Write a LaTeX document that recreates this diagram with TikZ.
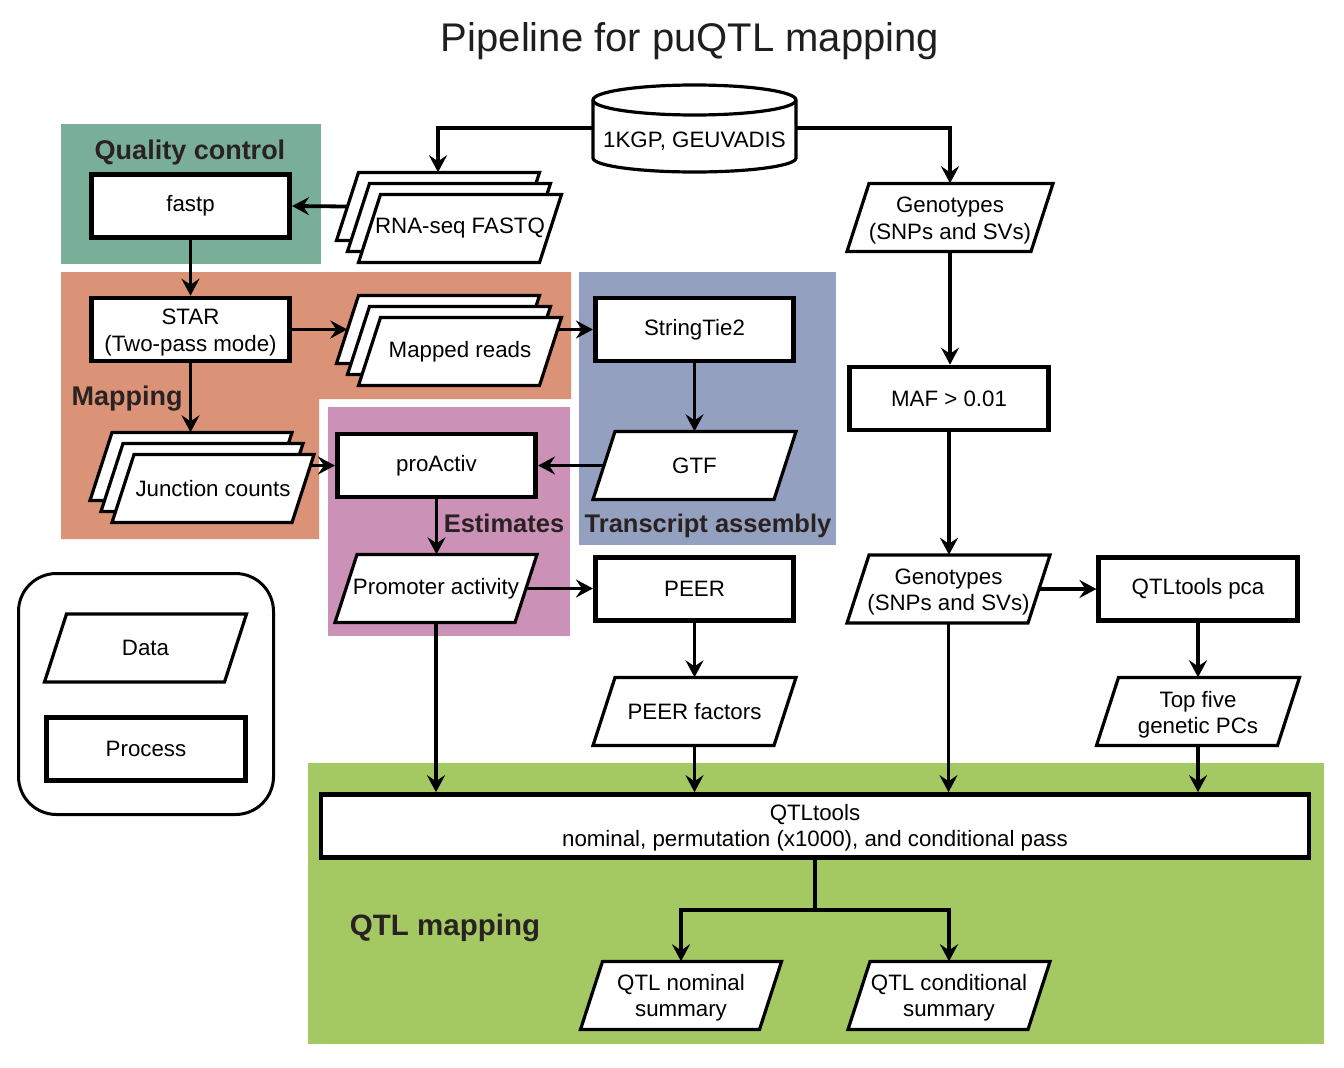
\documentclass[tikz,border=0pt]{standalone}
\usepackage{fontspec}
\setmainfont{Liberation Sans}
\usetikzlibrary{arrows.meta,calc}
\definecolor{qcg}{HTML}{79AF98}
\definecolor{mapo}{HTML}{DB9377}
\definecolor{tab}{HTML}{94A0BF}
\definecolor{estp}{HTML}{CC91B6}
\definecolor{qtlg}{HTML}{A4C862}
\definecolor{lab}{HTML}{2A2222}
\newcommand{\datapoly}[3]{%
  \filldraw[dataline] ({#1-#3/2+11},{#2-34}) -- ({#1+#3/2+11},{#2-34}) -- ({#1+#3/2-11},{#2+34}) -- ({#1-#3/2-11},{#2+34}) -- cycle;}
\newcommand{\datanode}[6][]{%
  \datapoly{#3}{#4}{#5}
  \node[databox, minimum width=#5pt, #1] (#2) at (#3,#4) {#6};}
\tikzset{
  base/.style={font=\fontsize{22.3}{26.5}\selectfont, align=center, inner sep=0pt},
  proc/.style={base, draw, line width=4.6pt, fill=white, minimum width=198.5pt, minimum height=63pt},
  databox/.style={base, minimum height=68pt},
  dataline/.style={draw=black, fill=white, line width=3.2pt, line join=miter},
  arr/.style={line width=3.8pt, -{Stealth[length=17pt,width=18pt,inset=6pt]}},
  plain/.style={line width=3.8pt},
  twolab/.style={base, yshift=-3pt},
  grouplabel/.style={font=\bfseries\fontsize{25.5}{30}\selectfont, text=lab, anchor=base, inner sep=0pt},
}
\begin{document}
\begin{tikzpicture}[x=1pt,y=-1pt]
\fill[white] (0,0) rectangle (1344,1068);
\useasboundingbox (0,0) rectangle (1344,1068);

% regions
\fill[qcg] (61,124) rectangle (321,264);
\fill[mapo] (61,272) -- (571,272) -- (571,399) -- (319,399) -- (319,539) -- (61,539) -- cycle;
\fill[tab] (579,272) rectangle (836,545);
\fill[estp] (328,407) rectangle (570,636);
\fill[qtlg] (308,763) rectangle (1324,1044);

% title
\node[font=\fontsize{40}{48}\selectfont, anchor=base, inner sep=0pt, text=black!88] (title) at (690,51) {Pipeline for puQTL mapping};

% group labels
\node[grouplabel, font=\bfseries\fontsize{27}{32}\selectfont] (lqc) at (190,159) {Quality control};
\node[grouplabel, font=\bfseries\fontsize{27}{32}\selectfont] (lmap) at (127,405) {Mapping};
\node[grouplabel] (lest) at (504,532) {Estimates};
\node[grouplabel] (lta) at (708,532) {Transcript assembly};
\node[grouplabel, font=\bfseries\fontsize{29.5}{34}\selectfont] (lqtl) at (445,935) {QTL mapping};

% database cylinder
\filldraw[dataline] (593,100) -- (593,158) arc[start angle=180,end angle=360,x radius=101.5pt,y radius=14pt] -- (796,100) arc[start angle=0,end angle=180,x radius=101.5pt,y radius=15pt] -- cycle;
\draw[line width=3.2pt] (593,100) arc[start angle=180,end angle=360,x radius=101.5pt,y radius=15pt];
\node[base] (db) at (694.5,141) {1KGP, GEUVADIS};
\coordinate (dbW) at (593,128);
\coordinate (dbE) at (796,128);

% process boxes
\node[proc] (fastp) at (190.5,206) {fastp};
\node[proc, label={[twolab]center:STAR\\(Two-pass mode)}] (star) at (190.5,329.5) {};
\node[proc] (stringtie) at (694.5,329.5) {StringTie2};
\node[proc] (proactiv) at (436.5,465.5) {proActiv};
\node[proc] (maf) at (949,398.5) {MAF > 0.01};
\node[proc] (peer) at (694.5,589) {PEER};
\node[proc] (pca) at (1198,589) {QTLtools pca};
\node[proc, minimum width=988pt, label={[twolab, yshift=1.5pt]center:QTLtools\\nominal, permutation (x1000), and conditional pass}] (qtl) at (815,826) {};

% data stacks
\datanode{fq3}{438}{206.5}{181}{}
\datanode{fq2}{449}{217.5}{181}{}
\datanode{fq1}{460}{228.5}{181}{RNA-seq FASTQ}
\datanode{mr3}{438}{329.5}{181}{}
\datanode{mr2}{449}{340.5}{181}{}
\datanode{mr1}{460}{351.5}{181}{Mapped reads}
\datanode{jc3}{191}{466.5}{180}{}
\datanode{jc2}{202}{477.5}{180}{}
\datanode{jc1}{213}{488.5}{180}{Junction counts}

% single data
\datanode[label={[twolab]center:Genotypes\\(SNPs and SVs)}]{gen1}{950}{217.5}{184}{}
\datanode{gtf}{694.5}{465.5}{181}{GTF}
\datanode[label={[twolab]center:Genotypes\\(SNPs and SVs)}]{gen2}{948.5}{589}{181}{}
\datanode{promoter}{436}{588.5}{180}{Promoter activity}
\datanode{peerf}{694.5}{711.5}{181}{PEER factors}
\datanode[label={[twolab]center:Top five\\genetic PCs}]{top5}{1198}{711.5}{181}{}
\datanode[label={[twolab, yshift=1pt]center:QTL nominal\\summary}]{nom}{681}{995.5}{179}{}
\datanode[label={[twolab, yshift=1pt]center:QTL conditional\\summary}]{cond}{949}{995.5}{180}{}

% legend
\node[draw, line width=3pt, rounded corners=38pt, minimum width=255pt, minimum height=241pt] (legend) at (146,694) {};
\datanode{ldata}{145.5}{648}{180}{Data}
\node[proc] (lproc) at (146,749) {Process};

% connectors
\draw[arr] (dbW) -| (fq3.north);
\draw[arr] (dbE) -| (gen1.north);
\draw[arr] (fq3.west) -- (fastp.east);
\draw[arr] (fastp.south) -- (star.north);
\draw[arr] (star.east) -- (mr3.west);
\draw[arr] ([xshift=7pt]mr1.east |- stringtie.west) -- (stringtie.west);
\draw[arr] (star.south) -- (star.south |- jc3.north);
\draw[arr] ([xshift=7.5pt]jc1.east |- proactiv.west) -- (proactiv.west);
\draw[arr] (stringtie.south) -- (gtf.north);
\draw[arr] (gtf.west) -- (proactiv.east);
\draw[arr] (proactiv.south) -- (proactiv.south |- promoter.north);
\draw[arr] (promoter.east) -- (promoter.east -| peer.west);
\draw[arr] (peer.south) -- (peerf.north);
\draw[arr] (gen1.south) -- (gen1.south |- maf.north);
\draw[arr] (maf.south) -- (maf.south |- gen2.north);
\draw[arr] (gen2.east) -- (gen2.east -| pca.west);
\draw[arr] (pca.south) -- (top5.north);
\draw[arr] (promoter.south) -- (promoter.south |- qtl.north);
\draw[arr] (peerf.south) -- (peerf.south |- qtl.north);
\draw[arr] (gen2.south) -- (gen2.south |- qtl.north);
\draw[arr] (top5.south) -- (top5.south |- qtl.north);
\coordinate (split) at (815,910);
\draw[plain] (qtl.south) -- (split);
\draw[arr] (split) -| (nom.north);
\draw[arr] (split) -| (cond.north);
\end{tikzpicture}
\end{document}
